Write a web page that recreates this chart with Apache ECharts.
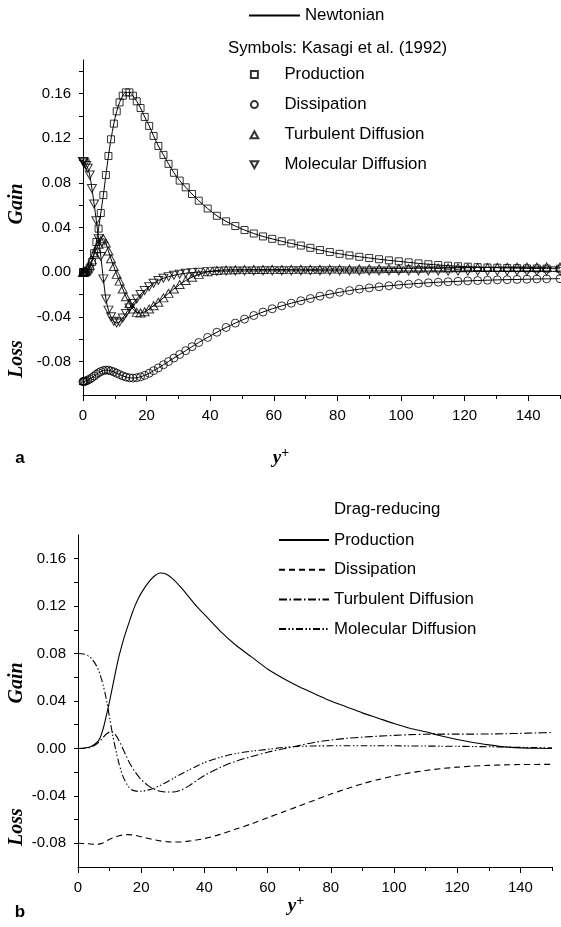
<!DOCTYPE html>
<html>
<head>
<meta charset="utf-8">
<script src="https://cdn.jsdelivr.net/npm/echarts@6/dist/echarts.min.js"></script>
<style>html,body{margin:0;padding:0;background:#fff}#c{width:561px;height:927px}</style>
</head>
<body>
<div id="c"></div>
<script>
// ---------- Panel a: Newtonian (lines) + Kasagi et al. (1992) symbols ----------
const ypA = [0, 0.1, 0.3, 0.6, 1.0, 1.5, 2.1, 2.8, 3.5, 4.2, 4.9, 5.6, 6.4, 7.2, 8.0, 8.8, 9.7, 10.6, 11.5, 12.5,
  13.5, 14.6, 15.7, 16.9, 18.1, 19.4, 20.8, 22.2, 23.7, 25.3, 26.9, 28.6, 30.4, 32.3, 34.3, 36.4, 39.2, 42.1, 45.0, 47.9,
  50.8, 53.7, 56.6, 59.5, 62.5, 65.5, 68.5, 71.5, 74.5, 77.6, 80.7, 83.8, 86.9, 90.0, 93.1, 96.2, 99.3, 102.4, 105.5, 108.6,
  111.7, 114.8, 117.9, 121.0, 124.1, 127.2, 130.3, 133.4, 136.5, 139.6, 142.7, 145.8, 150.0];
const prodA = [0, 0, 0, 0.0001, 0.0005, 0.0015, 0.004, 0.009, 0.017, 0.027, 0.039, 0.053, 0.069, 0.087, 0.104, 0.119, 0.133, 0.144, 0.152, 0.158,
  0.161, 0.161, 0.158, 0.153, 0.147, 0.139, 0.131, 0.122, 0.113, 0.105, 0.097, 0.089, 0.082, 0.076, 0.070, 0.064, 0.057, 0.0505, 0.0455, 0.0413,
  0.0377, 0.0346, 0.0320, 0.0298, 0.0277, 0.0257, 0.0238, 0.0218, 0.0198, 0.0180, 0.0164, 0.0150, 0.0138, 0.0127, 0.0116, 0.0106, 0.0097, 0.0088, 0.0079, 0.0071,
  0.0064, 0.0058, 0.0053, 0.0049, 0.0045, 0.0042, 0.0040, 0.0038, 0.0036, 0.0034, 0.0033, 0.0032, 0.0031];
const dissA = [-0.098, -0.098, -0.0979, -0.0977, -0.0973, -0.0967, -0.0958, -0.0945, -0.0930, -0.0915, -0.0901, -0.0890, -0.0881, -0.0877, -0.0878, -0.0884, -0.0893, -0.0905, -0.0917, -0.0929,
  -0.0939, -0.0946, -0.0948, -0.0945, -0.0937, -0.0924, -0.0905, -0.0882, -0.0857, -0.0829, -0.0800, -0.0769, -0.0737, -0.0703, -0.0667, -0.0630, -0.0584, -0.0538, -0.0495, -0.0456,
  -0.0420, -0.0388, -0.0357, -0.0328, -0.0302, -0.0278, -0.0256, -0.0236, -0.0215, -0.0197, -0.0180, -0.0165, -0.0152, -0.0141, -0.0131, -0.0122, -0.0114, -0.0107, -0.0101, -0.0095,
  -0.0090, -0.0086, -0.0082, -0.0078, -0.0075, -0.0072, -0.0069, -0.0067, -0.0065, -0.0063, -0.0061, -0.0060, -0.0058];
const turbA = [0, 0, 0, 0.0003, 0.001, 0.003, 0.006, 0.011, 0.016, 0.021, 0.025, 0.028, 0.030, 0.026, 0.019, 0.012, 0.005, -0.002, -0.008, -0.015,
  -0.022, -0.028, -0.033, -0.036, -0.0365, -0.0355, -0.033, -0.030, -0.027, -0.023, -0.019, -0.015, -0.011, -0.0075, -0.0045, -0.002, 0.0003, 0.0015, 0.002, 0.0022,
  0.0023, 0.0024, 0.0024, 0.0025, 0.0024, 0.0025, 0.0026, 0.0025, 0.0026, 0.0027, 0.0027, 0.0028, 0.0029, 0.0030, 0.0031, 0.0032, 0.0033, 0.0034, 0.0035, 0.0036,
  0.0037, 0.0038, 0.0039, 0.0040, 0.0041, 0.0042, 0.0043, 0.0044, 0.0045, 0.0046, 0.0046, 0.0047, 0.0047];
const molA = [0.099, 0.099, 0.0985, 0.097, 0.0955, 0.093, 0.087, 0.075, 0.061, 0.046, 0.030, 0.014, -0.006, -0.024, -0.034, -0.040, -0.044, -0.0455, -0.0445, -0.041,
  -0.037, -0.032, -0.028, -0.024, -0.020, -0.0165, -0.013, -0.010, -0.0075, -0.0055, -0.004, -0.0028, -0.0018, -0.001, -0.0004, 0, 0.0005, 0.0008, 0.001, 0.001,
  0.0011, 0.0011, 0.0012, 0.0012, 0.0012, 0.0012, 0.0012, 0.0013, 0.0012, 0.0012, 0.0012, 0.0011, 0.0011, 0.0011, 0.0011, 0.0011, 0.0010, 0.0010, 0.0010, 0.0010,
  0.0010, 0.0009, 0.0009, 0.0009, 0.0009, 0.0008, 0.0008, 0.0008, 0.0008, 0.0007, 0.0007, 0.0007, 0.0007];

// ---------- Panel b: Drag-reducing ----------
const ypB = [0, 2, 4, 6, 7, 8, 9, 10, 11, 12, 13, 14, 15, 16, 17, 18, 19, 20, 22, 24, 26, 28, 30, 32.5, 35, 37.5, 40,
  45, 50, 55, 60, 65, 70, 75, 80, 85, 90, 95, 100, 105, 110, 115, 120, 125, 130, 135, 140, 145, 150];
const prodB = [0, 0.0003, 0.0015, 0.005, 0.009, 0.017, 0.028, 0.040, 0.053, 0.066, 0.078, 0.088, 0.097, 0.105, 0.113, 0.120, 0.126, 0.131, 0.139, 0.145, 0.148, 0.147, 0.143, 0.136, 0.128, 0.120, 0.113,
  0.099, 0.087, 0.077, 0.067, 0.059, 0.052, 0.046, 0.040, 0.035, 0.030, 0.0255, 0.021, 0.017, 0.014, 0.0105, 0.0075, 0.005, 0.003, 0.0013, 0.0005, 0.0001, 0];
const dissB = [-0.080, -0.0802, -0.0806, -0.081, -0.0805, -0.0795, -0.078, -0.0767, -0.0755, -0.0745, -0.0737, -0.0731, -0.0728, -0.0727, -0.0729, -0.0733, -0.0738, -0.0745, -0.0758, -0.0770, -0.0780, -0.0786, -0.0789, -0.0788, -0.0782, -0.0772, -0.0760,
  -0.0725, -0.0680, -0.0635, -0.0585, -0.0535, -0.0485, -0.0435, -0.0385, -0.0340, -0.0298, -0.0263, -0.0232, -0.0206, -0.0186, -0.0170, -0.0158, -0.0149, -0.0143, -0.0139, -0.0136, -0.0135, -0.0134];
const turbB = [0, 0.0002, 0.001, 0.004, 0.0065, 0.0095, 0.0122, 0.0138, 0.0137, 0.011, 0.0065, 0.001, -0.005, -0.0105, -0.0155, -0.0195, -0.0232, -0.0262, -0.031, -0.0343, -0.0361, -0.0368, -0.0368, -0.0352, -0.0318, -0.0272, -0.0228,
  -0.0160, -0.0108, -0.0068, -0.0032, -0.0003, 0.0025, 0.0052, 0.0071, 0.0085, 0.0095, 0.0103, 0.0110, 0.0116, 0.0120, 0.0121, 0.0121, 0.0121, 0.0122, 0.0124, 0.0127, 0.0131, 0.0135];
const molB = [0.080, 0.0795, 0.0765, 0.069, 0.062, 0.053, 0.041, 0.026, 0.011, -0.002, -0.013, -0.022, -0.028, -0.0323, -0.0348, -0.0358, -0.0362, -0.0361, -0.0352, -0.0335, -0.0312, -0.0285, -0.0255, -0.0218, -0.0183, -0.0150, -0.0120,
  -0.0075, -0.0043, -0.0023, -0.0008, 0.0008, 0.0017, 0.0021, 0.0022, 0.0023, 0.0023, 0.0022, 0.0022, 0.0021, 0.0020, 0.0019, 0.0018, 0.0016, 0.0014, 0.0012, 0.0009, 0.0007, 0.0005];

// ---------- ticks ----------
const xLabelTicks = [0, 20, 40, 60, 80, 100, 120, 140];
const xMinorTicks = [10, 30, 50, 70, 90, 110, 130, 150];
const yLabelsA = [-0.08, -0.04, 0, 0.04, 0.08, 0.12, 0.16];
const yTicksA = [-0.10, -0.08, -0.06, -0.04, -0.02, 0, 0.02, 0.04, 0.06, 0.08, 0.10, 0.12, 0.14, 0.16, 0.18];
const yLabelsB = [-0.08, -0.04, 0, 0.04, 0.08, 0.12, 0.16];
const yTicksB = [-0.08, -0.06, -0.04, -0.02, 0, 0.02, 0.04, 0.06, 0.08, 0.10, 0.12, 0.14, 0.16];

const namesA = ['Production', 'Dissipation', 'Turbulent Diffusion', 'Molecular Diffusion'];
const namesB = ['DR Production', 'DR Dissipation', 'DR Turbulent Diffusion', 'DR Molecular Diffusion'];

const pairs = (xs, ys) => xs.map((x, i) => [x, ys[i]]);
const SANS = '"Liberation Sans", Arial, sans-serif';
const SERIF = '"Liberation Serif", "Times New Roman", serif';
const black = '#000';

function mainX(grid) {
  return {
    type: 'value', gridIndex: grid, min: 0, max: 150, position: 'bottom',
    axisLine: { onZero: false, lineStyle: { color: black, width: 1 } },
    axisTick: { customValues: xLabelTicks, length: 6, lineStyle: { color: black } },
    axisLabel: { customValues: xLabelTicks, color: black, fontFamily: SANS, fontSize: 15, margin: 13 },
    splitLine: { show: false }
  };
}
function minorX(grid) {
  return {
    type: 'value', gridIndex: grid, min: 0, max: 150, position: 'bottom',
    axisLine: { show: false, onZero: false },
    axisTick: { customValues: xMinorTicks, length: 4, lineStyle: { color: black } },
    axisLabel: { show: false },
    splitLine: { show: false }
  };
}
function yAx(grid, min, max, labels, ticks) {
  return {
    type: 'value', gridIndex: grid, min: min, max: max,
    axisLine: { show: true, onZero: false, lineStyle: { color: black, width: 1 } },
    axisTick: { show: true, customValues: ticks, length: 4, lineStyle: { color: black } },
    axisLabel: { customValues: labels, color: black, fontFamily: SANS, fontSize: 15, margin: 12,
      formatter: v => v.toFixed(2) },
    splitLine: { show: false }
  };
}

const markerStyle = { color: 'rgba(0,0,0,0)', borderColor: black, borderWidth: 1 };
const symbolsA = ['rect', 'circle', 'triangle', 'triangle'];
const sizesA = [7, 8, [9, 8], [9, 8]];
const rotA = [0, 0, 0, 180];
const dataA = [prodA, dissA, turbA, molA];
const dataB = [prodB, dissB, turbB, molB];
const dashB = ['solid', [6, 4], [8, 2.5, 1.5, 2.5], [7, 2.5, 1.5, 2, 1.5, 2.5]];

const series = [];
dataA.forEach((d) => {
  series.push({ type: 'line', name: 'Newtonian', xAxisIndex: 0, yAxisIndex: 0, data: pairs(ypA, d),
    symbol: 'none', smooth: 0.3, lineStyle: { color: black, width: 1 }, itemStyle: { color: black }, z: 2 });
});
dataA.forEach((d, i) => {
  series.push({ type: 'scatter', name: namesA[i], xAxisIndex: 0, yAxisIndex: 0, data: pairs(ypA, d),
    symbol: symbolsA[i], symbolSize: sizesA[i], symbolRotate: rotA[i], itemStyle: markerStyle, z: 3 });
});
dataB.forEach((d, i) => {
  series.push({ type: 'line', name: namesB[i], xAxisIndex: 2, yAxisIndex: 1, data: pairs(ypB, d),
    symbol: 'none', smooth: 0.3, lineStyle: { color: black, width: 1.1, type: dashB[i] }, itemStyle: { color: black } });
});

const legendText = { color: black, fontFamily: SANS, fontSize: 16.8 };
const hiddenSymbol = { color: 'rgba(0,0,0,0)', borderColor: 'rgba(0,0,0,0)', borderWidth: 0 };

const option = {
  animation: false,
  backgroundColor: '#fff',
  grid: [
    { left: 83, top: 60, width: 477, height: 335 },
    { left: 78, top: 535, width: 474, height: 332 }
  ],
  xAxis: [mainX(0), minorX(0), mainX(1), minorX(1)],
  yAxis: [
    yAx(0, -0.11, 0.19, yLabelsA, yTicksA),
    yAx(1, -0.10, 0.18, yLabelsB, yTicksB)
  ],
  legend: [
    { data: ['Newtonian'], left: 248, top: 7, itemWidth: 51, itemHeight: 16, textStyle: legendText,
      itemStyle: hiddenSymbol, selectedMode: false, padding: 0 },
    { data: [
        { name: namesA[0], icon: 'path://M0,0L10,0L10,10L0,10Z' },
        { name: namesA[1], icon: 'circle' },
        { name: namesA[2], icon: 'path://M5,0L10,9L0,9Z' },
        { name: namesA[3], icon: 'path://M0,0L10,0L5,9Z' }
      ],
      orient: 'vertical', left: 249.5, top: 66, itemWidth: 50, itemHeight: 7, itemGap: 13.1,
      textStyle: legendText, selectedMode: false, padding: 0 },
    { data: namesB, orient: 'vertical', left: 278, top: 531.5, itemWidth: 50, itemHeight: 14, itemGap: 12.7,
      formatter: n => n.replace(/^DR /, ''), textStyle: legendText, itemStyle: hiddenSymbol,
      selectedMode: false, padding: 0 }
  ],
  graphic: [
    { type: 'text', x: 228, y: 48, style: { text: 'Symbols: Kasagi et al. (1992)', fill: black, font: '16.8px ' + SANS, verticalAlign: 'middle' } },
    { type: 'text', x: 334, y: 509, style: { text: 'Drag-reducing', fill: black, font: '16.8px ' + SANS, verticalAlign: 'middle' } },
    { type: 'text', x: 17, y: 204, rotation: Math.PI / 2, style: { text: 'Gain', fill: black, font: 'italic bold 20px ' + SERIF, align: 'center', verticalAlign: 'middle' } },
    { type: 'text', x: 17, y: 359, rotation: Math.PI / 2, style: { text: 'Loss', fill: black, font: 'italic bold 20px ' + SERIF, align: 'center', verticalAlign: 'middle' } },
    { type: 'text', x: 17, y: 683, rotation: Math.PI / 2, style: { text: 'Gain', fill: black, font: 'italic bold 20px ' + SERIF, align: 'center', verticalAlign: 'middle' } },
    { type: 'text', x: 17, y: 827, rotation: Math.PI / 2, style: { text: 'Loss', fill: black, font: 'italic bold 20px ' + SERIF, align: 'center', verticalAlign: 'middle' } },
    { type: 'text', x: 281, y: 458, style: { text: '{i|y}{s|+}', align: 'center', verticalAlign: 'middle',
        rich: { i: { fontFamily: SERIF, fontStyle: 'italic', fontWeight: 'bold', fontSize: 19, fill: black },
                s: { fontFamily: SERIF, fontWeight: 'bold', fontSize: 14, fill: black, padding: [0, 0, 9, 0] } } } },
    { type: 'text', x: 296, y: 906, style: { text: '{i|y}{s|+}', align: 'center', verticalAlign: 'middle',
        rich: { i: { fontFamily: SERIF, fontStyle: 'italic', fontWeight: 'bold', fontSize: 19, fill: black },
                s: { fontFamily: SERIF, fontWeight: 'bold', fontSize: 14, fill: black, padding: [0, 0, 9, 0] } } } },
    { type: 'text', x: 20, y: 458, style: { text: 'a', fill: black, font: 'bold 17px ' + SANS, align: 'center', verticalAlign: 'middle' } },
    { type: 'text', x: 20, y: 912, style: { text: 'b', fill: black, font: 'bold 17px ' + SANS, align: 'center', verticalAlign: 'middle' } }
  ],
  series: series
};

const chart = echarts.init(document.getElementById('c'), null, { renderer: 'canvas' });
chart.setOption(option);
</script>
</body>
</html>
